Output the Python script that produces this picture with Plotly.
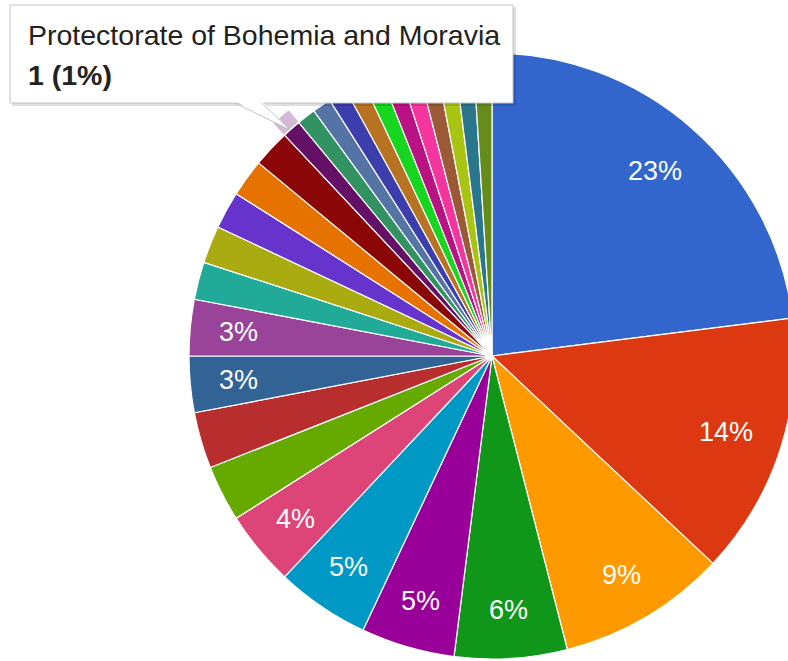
import math
import plotly.graph_objects as go

# ---- data -------------------------------------------------------------
labels = [
    "Category 01", "Category 02", "Category 03", "Category 04", "Category 05",
    "Category 06", "Category 07", "Category 08", "Category 09", "Category 10",
    "Category 11", "Category 12", "Category 13", "Category 14", "Category 15",
    "Category 16", "Protectorate of Bohemia and Moravia", "Category 18",
    "Category 19", "Category 20", "Category 21", "Category 22", "Category 23",
    "Category 24", "Category 25", "Category 26", "Category 27", "Category 28",
]
counts = [23, 14, 9, 6, 5, 5, 4, 3, 3, 3, 3, 2, 2, 2, 2, 2,
          1, 1, 1, 1, 1, 1, 1, 1, 1, 1, 1, 1]

# classic Google Charts palette
colors = [
    "#3366cc", "#dc3912", "#ff9900", "#109618", "#990099", "#0099c6",
    "#dd4477", "#66aa00", "#b82e2e", "#316395", "#994499", "#22aa99",
    "#aaaa11", "#6633cc", "#e67300", "#8b0707", "#651067", "#329262",
    "#5574a6", "#3b3eac", "#b77322", "#16d620", "#b91383", "#f4359e",
    "#9c5935", "#a9c413", "#2a778d", "#668d1c",
]

# slices that carry a percentage label
labelled = [0, 1, 2, 3, 4, 5, 6, 9, 10]
# slice under the tooltip
hovered = 16

# ---- geometry (pixels) ------------------------------------------------
W, H = 820, 680
CX, CY, R = 492, 356, 303
RING_IN, RING_OUT = 304, 319
FONT = "Arial, Liberation Sans, sans-serif"


def px(x, y):
    return x / W, (H - y) / H


def dom(r):
    x0, y1 = px(CX - r, CY - r)
    x1, y0 = px(CX + r, CY + r)
    return dict(x=[x0, x1], y=[y0, y1])


total = sum(counts)

fig = go.Figure()

# highlight ring around the hovered slice
ring_colors = ["rgba(0,0,0,0)"] * len(counts)
ring_colors[hovered] = "#d3b9d4"
fig.add_trace(go.Pie(
    labels=labels, values=counts, sort=False, direction="clockwise",
    rotation=0, hole=RING_IN / RING_OUT, domain=dom(RING_OUT),
    marker=dict(colors=ring_colors, line=dict(width=0)),
    textinfo="none", hoverinfo="skip", showlegend=False,
))

# main pie
fig.add_trace(go.Pie(
    labels=labels, values=counts, sort=False, direction="clockwise",
    rotation=0, domain=dom(R),
    marker=dict(colors=colors, line=dict(color="white", width=1.2)),
    textinfo="none", hoverinfo="label+value+percent", showlegend=False,
))

annotations = []
cum = 0
for i, c in enumerate(counts):
    mid = (cum + c / 2) / total
    cum += c
    if i not in labelled:
        continue
    theta = 2 * math.pi * mid
    r_lab = 246 if c / total > 0.1 else 255
    x, y = px(CX + r_lab * math.sin(theta), CY - r_lab * math.cos(theta))
    annotations.append(dict(
        x=x, y=y, xref="paper", yref="paper", showarrow=False,
        text=f"{round(100 * c / total)}%",
        font=dict(family=FONT, size=27, color="white"),
        xanchor="center", yanchor="middle",
    ))

# tooltip
bx0, by0, bx1, by1 = 10, 5, 513, 103
tail_l, tail_r, tip = (235, by1), (262, by1), (290, 130)
shapes = []
sx0, sy0 = px(bx0 + 2, by0 + 2)
sx1, sy1 = px(bx1 + 3, by1 + 3)
shapes.append(dict(type="rect", xref="paper", yref="paper", layer="above",
                   x0=sx0, y0=sy0, x1=sx1, y1=sy1,
                   fillcolor="rgba(0,0,0,0.13)", line=dict(width=0)))
x0, y0 = px(bx0, by0)
x1, y1 = px(bx1, by1)
shapes.append(dict(type="rect", xref="paper", yref="paper", layer="above",
                   x0=x0, y0=y0, x1=x1, y1=y1,
                   fillcolor="white", line=dict(color="#c4c4c4", width=1)))
pa, pb, pc = px(tail_l[0], tail_l[1] - 2), px(*tip), px(tail_r[0], tail_r[1] - 2)
shapes.append(dict(type="path", xref="paper", yref="paper", layer="above",
                   path=f"M {pa[0]} {pa[1]} L {pb[0]} {pb[1]} L {pc[0]} {pc[1]} Z",
                   fillcolor="white", line=dict(width=0)))
for end in (tail_l, tail_r):
    ea = px(*end)
    shapes.append(dict(type="line", xref="paper", yref="paper", layer="above",
                       x0=ea[0], y0=ea[1], x1=pb[0], y1=pb[1],
                       line=dict(color="#c4c4c4", width=1)))

tx, ty1 = px(26, 35)
_, ty2 = px(26, 75)
annotations.append(dict(
    x=tx, y=ty1, xref="paper", yref="paper", showarrow=False,
    text=labels[hovered], xanchor="left", yanchor="middle",
    font=dict(family=FONT, size=28.5, color="#222222"),
))
annotations.append(dict(
    x=tx, y=ty2, xref="paper", yref="paper", showarrow=False,
    text=f"<b>{counts[hovered]} ({round(100 * counts[hovered] / total)}%)</b>",
    xanchor="left", yanchor="middle",
    font=dict(family=FONT, size=28.5, color="#222222"),
))

fig.update_layout(
    width=W, height=H, autosize=False,
    margin=dict(l=0, r=0, t=0, b=0, pad=0),
    paper_bgcolor="white", plot_bgcolor="white",
    shapes=shapes, annotations=annotations,
    font=dict(family=FONT),
)

fig.write_html(
    "out.html",
    config={"displayModeBar": False},
    post_script=(
        "document.body.style.margin='0';"
        "document.body.style.overflow='hidden';"
        "document.documentElement.style.overflow='hidden';"
    ),
)
